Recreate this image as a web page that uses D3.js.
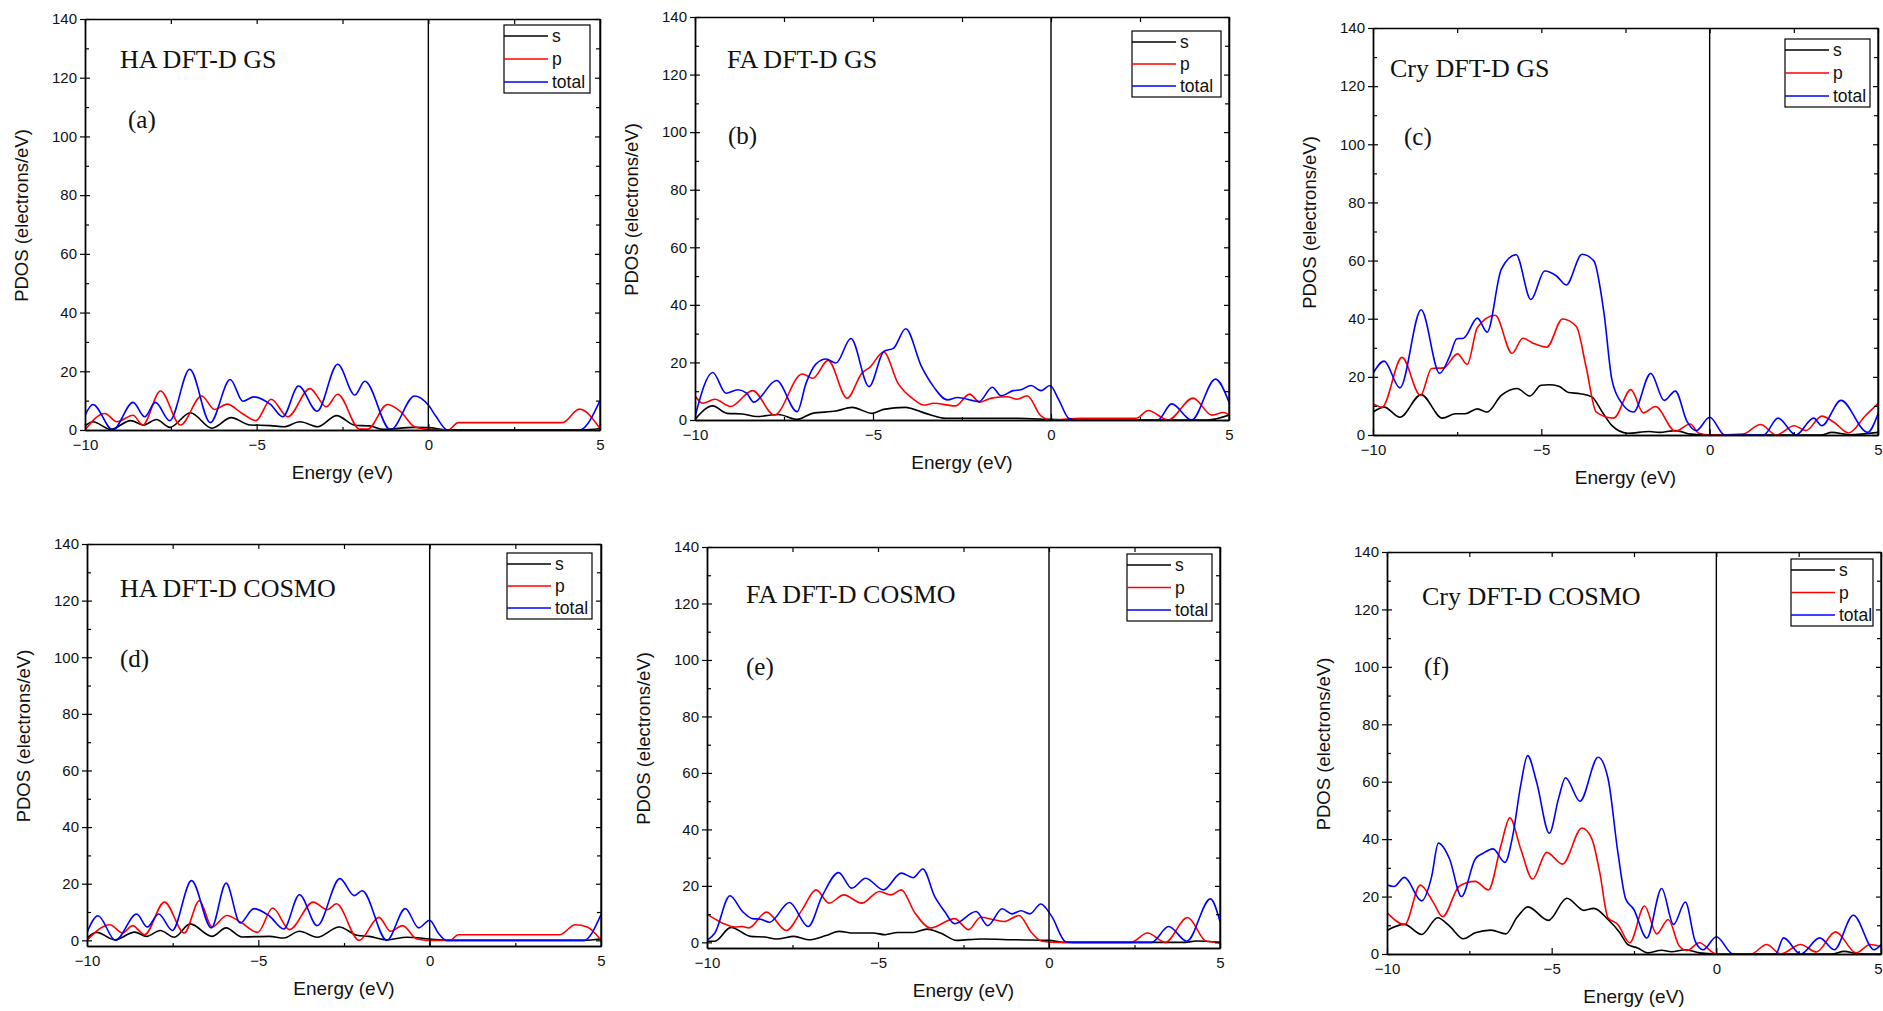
<!DOCTYPE html>
<html>
<head>
<meta charset="utf-8">
<script src="https://cdn.jsdelivr.net/npm/d3@7"></script>
<style>
  body { margin: 0; background: #fff; }
  svg { display: block; }
</style>
</head>
<body>
<svg id="chart" width="1883" height="1011"></svg>
<script>
// ---- data: [energy (eV), PDOS (electrons/eV)] ----
var haGsS = [[-10,1.4],[-9.77,2.8],[-9.25,0.2],[-8.67,3.2],[-8.3,1.7],[-7.92,3.6],[-7.53,0.9],[-6.93,5.9],[-6.3,0.6],[-5.74,4.2],[-5.19,1.7],[-4.6,1.5],[-4.2,1.1],[-3.74,2.8],[-3.22,1.1],[-2.67,4.9],[-2.14,1.6],[-1.71,1.4],[-1.3,0.2],[-0.43,0.9],[0,0.8],[0.58,0],[4.5,0],[5,0.5]];
var haGsP = [[-10,0],[-9.42,5.6],[-9.07,2.8],[-8.6,5],[-8.32,1.7],[-7.8,13.3],[-7.22,1.7],[-6.6,11.6],[-6.23,7],[-5.86,8.8],[-5.42,5.6],[-5.02,3.2],[-4.58,10.5],[-4.09,4.5],[-3.45,14.1],[-2.97,7.9],[-2.64,12.2],[-2.0,0.3],[-1.77,0.3],[-1.19,8.7],[-0.8,6.2],[-0.4,1.1],[0,0.2],[0.58,0],[0.87,2.5],[3.9,2.5],[4.4,7.1],[5,0.5]];
var haGsT = [[-10,5],[-9.77,8.7],[-9.19,0],[-8.6,9.4],[-8.26,4.5],[-7.95,9.4],[-7.53,3.2],[-6.95,20.7],[-6.35,2.5],[-5.77,17.2],[-5.4,9.8],[-5.08,11.3],[-4.6,8.7],[-4.24,4.5],[-3.78,15],[-3.24,6.4],[-2.64,22.4],[-2.14,11.9],[-1.85,16.6],[-1.1,0],[-0.4,11.6],[0,8.5],[0.23,4.5],[0.56,0],[4.4,0],[5,10]];

var faGsS = [[-10,0.2],[-9.5,4.9],[-9.1,2.3],[-8.66,2.1],[-8.27,1.2],[-7.66,1.9],[-7.13,0.2],[-6.7,2.3],[-6.04,3.1],[-5.59,4.4],[-5.02,2.3],[-4.7,3.7],[-4.1,4.4],[-3.52,2.3],[-2.96,0.6],[-2.29,0.6],[-0.95,0.6],[0,0.2],[0.5,0],[4.4,0],[5,1.7]];
var faGsP = [[-10,8.4],[-9.78,5.8],[-9.44,7.2],[-9.0,4.7],[-8.38,10.2],[-7.77,1.7],[-6.99,16],[-6.69,14.5],[-6.26,20.7],[-5.73,7.6],[-5.31,16.3],[-5.09,18.3],[-4.7,23.6],[-4.3,12.8],[-3.86,7.2],[-3.57,5.2],[-3.3,5.8],[-2.68,4.9],[-2.29,9],[-2.0,6.2],[-1.67,7.6],[-1.23,8.1],[-0.95,7.2],[-0.67,8.4],[-0.28,1.4],[0,0],[0.84,0.6],[2.4,0.6],[2.73,3.3],[3.29,0],[3.99,7.6],[4.52,1.7],[4.85,2.6],[5,1.7]];
var faGsT = [[-10,1.2],[-9.5,16.5],[-9.13,9.3],[-8.8,10.5],[-8.55,9.3],[-8.35,6.2],[-7.71,13.7],[-7.13,2.9],[-6.88,12.8],[-6.6,19.5],[-6.32,21.2],[-6.04,19.8],[-5.62,28.3],[-5.11,11.6],[-4.7,23.8],[-4.42,25],[-4.08,31.7],[-3.64,18.6],[-3.3,11.6],[-2.91,7],[-2.63,7.8],[-2.02,6.4],[-1.65,11.4],[-1.4,8.4],[-1.06,10.2],[-0.84,10.5],[-0.56,12],[-0.28,10.2],[-0.03,12],[0.22,7],[0.5,0.6],[0.7,0],[3.0,0],[3.39,5.6],[3.95,0],[4.62,14.2],[5,6.2]];

var cryGsS = [[-10,7.9],[-9.67,9.6],[-9.2,6.1],[-8.57,13.9],[-7.94,5.8],[-7.55,7.3],[-7.26,7.3],[-6.9,9],[-6.61,7.9],[-6.19,13.6],[-5.72,16],[-5.34,13.4],[-5.01,17.1],[-4.78,17.3],[-4.48,16.8],[-4.19,14.6],[-3.85,14.2],[-3.5,13.1],[-3.19,7.9],[-2.9,3.2],[-2.44,0.6],[-1.79,1.2],[-1.5,0.9],[-1.02,1.5],[-0.55,0.3],[0,0],[3.3,0],[3.63,0.9],[4.16,0.1],[5,0.9]];
var cryGsP = [[-10,10.8],[-9.73,9.6],[-9.14,26.7],[-8.59,13.6],[-8.26,22.9],[-7.9,23.1],[-7.49,27.9],[-7.2,24.3],[-6.9,37],[-6.37,41.2],[-5.87,28.1],[-5.55,33.3],[-5.25,31.6],[-4.84,30.2],[-4.37,39.9],[-3.96,37.3],[-3.67,23.4],[-3.37,7.9],[-2.85,5.8],[-2.34,15.6],[-1.97,7.6],[-1.61,9.8],[-1.02,1.3],[-0.58,3.8],[-0.32,0.6],[0,0],[0.98,0.3],[1.51,3.6],[1.98,0],[2.51,3.2],[2.86,1.5],[3.33,6.5],[3.69,4.4],[4.13,0.7],[4.63,6.7],[5,10.8]];
var cryGsT = [[-10,21.2],[-9.67,25.4],[-9.2,16.2],[-8.57,43.1],[-8.02,21.2],[-7.73,26.9],[-7.51,33.1],[-7.31,33.3],[-6.9,40.2],[-6.61,35.4],[-6.19,57],[-5.75,62],[-5.31,46.6],[-4.9,56.4],[-4.55,54.7],[-4.26,51.6],[-3.79,62.2],[-3.44,59.9],[-3.14,42],[-2.9,18.8],[-2.6,10.8],[-2.26,7.9],[-1.75,21.2],[-1.35,11.9],[-1.02,15.1],[-0.67,4.6],[-0.4,1.5],[0,6.1],[0.45,0],[1.6,0],[2.03,5.8],[2.56,0],[3.09,5.8],[3.33,3.2],[3.9,11.9],[4.69,0.9],[5,7.3]];

var haCoS = [[-10,0.8],[-9.71,2.8],[-9.19,0.2],[-8.61,2.9],[-8.26,1.4],[-7.86,3.5],[-7.45,1.1],[-6.99,5.8],[-6.35,1.4],[-5.94,4.4],[-5.48,1.2],[-4.67,1.4],[-4.26,0.8],[-3.8,3.2],[-3.28,1.1],[-2.64,4.7],[-2.12,1.8],[-1.77,1.4],[-1.25,0.2],[-0.67,1.1],[0,0.5],[0.54,0],[4.5,0],[5,0.5]];
var haCoP = [[-10,0],[-9.33,5.5],[-8.96,2.6],[-8.67,5.2],[-8.32,2],[-7.74,13.5],[-7.16,2.6],[-6.72,14],[-6.35,4.7],[-5.92,8.8],[-5.48,6.1],[-5.02,2.8],[-4.58,11.4],[-4.09,3.8],[-3.4,13.5],[-2.99,10.8],[-2.72,12.9],[-2.06,0],[-1.48,8.1],[-1.14,3.2],[-0.79,5.2],[-0.38,0.5],[0,0],[0.6,0],[0.83,2],[3.79,2],[4.25,5.5],[4.6,4.7],[5,0]];
var haCoT = [[-10,2.8],[-9.68,8.7],[-9.17,0],[-8.55,9.3],[-8.24,4.7],[-7.91,9.3],[-7.51,3.5],[-6.95,21.1],[-6.37,4.4],[-5.94,20.2],[-5.53,6.1],[-5.13,11.2],[-4.67,8.5],[-4.26,4],[-3.8,16.1],[-3.28,5.2],[-2.62,21.8],[-2.2,15.8],[-1.97,17.5],[-1.25,0],[-0.71,11.2],[-0.32,4.4],[0,7.1],[0.25,2.6],[0.49,0],[4.5,0],[5,9.1]];

var faCoS = [[-10,0.4],[-9.77,0.4],[-9.3,5.3],[-8.72,2.1],[-8.32,1.9],[-7.97,1.2],[-7.45,2.1],[-7.04,0.9],[-6.52,2.4],[-6.14,3.9],[-5.71,3.3],[-5.14,3.3],[-4.79,2.7],[-4.43,3.5],[-3.97,3.5],[-3.57,4.7],[-3.17,3.3],[-2.7,0.7],[-2.0,1.2],[-0.96,0.9],[0,0.7],[0.43,0],[4.0,0],[4.3,0.5],[5,0]];
var faCoP = [[-10,10],[-9.54,6.8],[-9.19,5.4],[-8.96,5.6],[-8.78,5.1],[-8.26,10.7],[-7.68,4.2],[-7.22,11.5],[-6.81,18.6],[-6.43,13.9],[-6.0,16.8],[-5.48,13.9],[-4.96,18],[-4.62,16.8],[-4.32,18.6],[-3.92,10.4],[-3.46,5.1],[-2.76,8.4],[-2.35,4.5],[-2.0,8.9],[-1.6,8],[-1.31,7.4],[-0.88,9.5],[-0.5,3.3],[-0.21,0.4],[0.2,0],[2.4,0],[2.88,3.3],[3.4,0],[4.05,8.8],[4.6,0.4],[5,0]];
var faCoT = [[-10,0.7],[-9.77,3.3],[-9.33,16.5],[-8.96,10.9],[-8.67,8.4],[-8.43,8.2],[-8.17,7.1],[-7.59,14.1],[-7.04,5.6],[-6.64,16.2],[-6.15,24.7],[-5.77,19.2],[-5.36,22.7],[-4.84,18.6],[-4.32,24.5],[-3.97,22.9],[-3.69,26],[-3.34,16.2],[-3.05,10.9],[-2.76,6.6],[-2.13,10.9],[-1.79,5.9],[-1.37,11.9],[-1.08,10.1],[-0.82,11.2],[-0.56,10.1],[-0.24,13.6],[0.08,9.2],[0.49,0.2],[0.7,0],[3.0,0],[3.5,5.6],[4.03,0.4],[4.72,15.4],[5,7.4]];

var cryCoS = [[-10,8.2],[-9.47,10.3],[-8.95,6.8],[-8.46,12.6],[-8.1,9.7],[-7.68,5.3],[-7.32,7.4],[-6.84,8.3],[-6.39,7],[-6.06,12.6],[-5.72,16.4],[-5.1,11.7],[-4.54,19.4],[-4.02,15.2],[-3.72,15.9],[-3.29,12],[-2.93,7.4],[-2.69,3.3],[-2.39,2.1],[-2.08,0.4],[-1.66,1.3],[-1.36,0.8],[-0.94,1.5],[-0.52,0.4],[0,0],[3.5,0],[3.88,0.9],[4.3,0.1],[5,0]];
var cryCoP = [[-10,14.4],[-9.46,10.3],[-8.99,24],[-8.59,17.9],[-8.31,13],[-7.8,23.7],[-7.32,25.3],[-6.92,22.3],[-6.54,37.8],[-6.27,47.4],[-5.94,36.6],[-5.58,26.1],[-5.15,35.4],[-4.67,31.3],[-4.08,43.9],[-3.78,40.1],[-3.54,28.4],[-3.29,12.6],[-2.99,10.3],[-2.63,3.9],[-2.18,16.7],[-1.81,7],[-1.46,12],[-1.12,2.7],[-0.88,1.2],[-0.52,3.9],[0,0],[1.05,0],[1.53,3.3],[1.95,0],[2.56,3.3],[3.04,0.7],[3.62,7.7],[4.25,0.4],[4.67,3.3],[5,2.5]];
var cryCoT = [[-10,24.1],[-9.79,23.5],[-9.47,26.7],[-8.95,18.5],[-8.65,26.7],[-8.44,38.6],[-8.1,33.1],[-7.74,20],[-7.32,33.1],[-7.08,35.1],[-6.78,36.6],[-6.42,31.9],[-6.18,41.3],[-5.94,58.8],[-5.73,69.1],[-5.46,60],[-5.07,42.1],[-4.79,54.2],[-4.58,61.4],[-4.14,53.2],[-3.59,68.5],[-3.29,61.2],[-2.99,35.4],[-2.75,19.1],[-2.51,15.6],[-2.11,5.6],[-1.66,22.8],[-1.3,10.3],[-0.94,18.1],[-0.64,4.4],[-0.4,1.5],[0,6],[0.51,0],[1.8,0],[2.04,5.6],[2.56,0],[3.14,5.6],[3.58,1.5],[4.16,13.5],[4.79,1.5],[5,3.3]];

var panelTitles = ["HA DFT-D GS", "FA DFT-D GS", "Cry DFT-D GS", "HA DFT-D COSMO", "FA DFT-D COSMO", "Cry DFT-D COSMO"];
var panelLetters = ["(a)", "(b)", "(c)", "(d)", "(e)", "(f)"];
var seriesNames = ["s", "p", "total"];
var seriesColors = ["#000000", "#ff0000", "#0000ff"];
var xMajorTicks = [-10, -5, 0, 5];
var xMinorTicks = [-7.5, -2.5, 2.5];
var yMajorTicks = [0, 20, 40, 60, 80, 100, 120, 140];
var yMinorTicks = [10, 30, 50, 70, 90, 110, 130];

var panelSeries = [
  [haGsS, haGsP, haGsT], [faGsS, faGsP, faGsT], [cryGsS, cryGsP, cryGsT],
  [haCoS, haCoP, haCoT], [faCoS, faCoP, faCoT], [cryCoS, cryCoP, cryCoT]
];

// layout of each panel in page pixels
var layout = [
  {left: 85,   right: 600,  top: 19,  bottom: 430, yMin: 0,  titleX: 120,  titleY: 68,  letterX: 128,  letterY: 128, legX: 504,  legY: 25,  legW: 86, legH: 68},
  {left: 695,  right: 1229, top: 17,  bottom: 420, yMin: 0,  titleX: 727,  titleY: 68,  letterX: 728,  letterY: 144, legX: 1132, legY: 31,  legW: 89, legH: 66},
  {left: 1373, right: 1878, top: 28,  bottom: 435, yMin: 0,  titleX: 1390, titleY: 77,  letterX: 1404, letterY: 145, legX: 1785, legY: 39,  legW: 85, legH: 68},
  {left: 87,   right: 601,  top: 544, bottom: 946, yMin: -2, titleX: 120,  titleY: 597, letterX: 120,  letterY: 667, legX: 507,  legY: 553, legW: 85, legH: 66},
  {left: 707,  right: 1220, top: 547, bottom: 948, yMin: -2, titleX: 746,  titleY: 603, letterX: 746,  letterY: 675, legX: 1127, legY: 554, legW: 85, legH: 67},
  {left: 1387, right: 1881, top: 552, bottom: 954, yMin: 0,  titleX: 1422, titleY: 605, letterX: 1424, letterY: 675, legX: 1791, legY: 559, legW: 82, legH: 67}
];

var svg = d3.select('#chart');
var pageWidth = 1883;
var sansFont = "'Liberation Sans', Arial, sans-serif";
var serifFont = "'Liberation Serif', 'Times New Roman', serif";

function drawPanel(p, k) {
  var x = d3.scaleLinear().domain([-10, 5]).range([p.left, p.right]);
  var y = d3.scaleLinear().domain([p.yMin, 140]).range([p.bottom, p.top]);
  var g = svg.append('g');

  g.append('clipPath').attr('id', 'clip' + k)
    .append('rect')
      .attr('x', p.left).attr('y', p.top)
      .attr('width', p.right - p.left).attr('height', p.bottom - p.top);

  var line = d3.line()
    .x(function(d) { return x(d[0]); })
    .y(function(d) { return y(d[1]); })
    .curve(d3.curveMonotoneX);

  // s, p, then total on top
  g.append('g').attr('clip-path', 'url(#clip' + k + ')')
    .selectAll('path')
    .data(panelSeries[k])
    .enter()
    .append('path')
      .attr('d', line)
      .attr('fill', 'none')
      .attr('stroke', function(d, i) { return seriesColors[i]; })
      .attr('stroke-width', 1.6);

  // Fermi level
  g.append('line')
    .attr('x1', x(0)).attr('x2', x(0))
    .attr('y1', p.top).attr('y2', p.bottom)
    .attr('stroke', '#000').attr('stroke-width', 1.4);

  // axes: labelled bottom/left, plain top/right, ticks pointing in
  var bottom = g.append('g').attr('transform', 'translate(0,' + p.bottom + ')')
    .call(d3.axisBottom(x).tickValues(xMajorTicks).tickSizeInner(-6).tickSizeOuter(0).tickPadding(9)
      .tickFormat(d3.format('d')));
  g.append('g').attr('transform', 'translate(0,' + p.bottom + ')')
    .call(d3.axisBottom(x).tickValues(xMinorTicks).tickSizeInner(-3).tickSizeOuter(0).tickFormat(''));
  g.append('g').attr('transform', 'translate(0,' + p.top + ')')
    .call(d3.axisTop(x).tickValues(xMajorTicks.concat(xMinorTicks)).tickSizeInner(-5).tickSizeOuter(0).tickFormat(''));

  var left = g.append('g').attr('transform', 'translate(' + p.left + ',0)')
    .call(d3.axisLeft(y).tickValues(yMajorTicks).tickSizeInner(5).tickSizeOuter(0).tickPadding(3));
  g.append('g').attr('transform', 'translate(' + p.left + ',0)')
    .call(d3.axisLeft(y).tickValues(yMajorTicks).tickSizeInner(-5).tickSizeOuter(0).tickFormat(''));
  g.append('g').attr('transform', 'translate(' + p.left + ',0)')
    .call(d3.axisLeft(y).tickValues(yMinorTicks).tickSizeInner(-4).tickSizeOuter(0).tickFormat(''));
  g.append('g').attr('transform', 'translate(' + p.right + ',0)')
    .call(d3.axisRight(y).tickValues(yMajorTicks).tickSizeInner(-5).tickSizeOuter(0).tickFormat(''));
  g.append('g').attr('transform', 'translate(' + p.right + ',0)')
    .call(d3.axisRight(y).tickValues(yMinorTicks).tickSizeInner(-4).tickSizeOuter(0).tickFormat(''));

  g.selectAll('.domain').attr('stroke', '#000').attr('stroke-width', 1.3);
  g.selectAll('.tick line').attr('stroke', '#000').attr('stroke-width', 1.2);
  g.selectAll('.tick text')
    .attr('font-family', sansFont).attr('font-size', 15).attr('fill', '#111');

  // last x label of the right-hand panels sits on the page edge: keep it inside
  bottom.selectAll('.tick text')
    .attr('text-anchor', function(d) { return x(d) + 5 > pageWidth ? 'end' : 'middle'; })
    .attr('x', function(d) { return x(d) + 5 > pageWidth ? pageWidth - 1 - x(d) : 0; });

  // close the frame on the right side
  g.append('line')
    .attr('x1', p.right).attr('x2', p.right).attr('y1', p.top).attr('y2', p.bottom)
    .attr('stroke', '#000').attr('stroke-width', 1.3);

  // axis titles
  g.append('text')
    .attr('x', (p.left + p.right) / 2).attr('y', p.bottom + 49)
    .attr('text-anchor', 'middle')
    .attr('font-family', sansFont).attr('font-size', 19).attr('fill', '#111')
    .text('Energy (eV)');
  g.append('text')
    .attr('transform', 'translate(' + (p.left - 63) + ',' + ((p.top + p.bottom) / 2 - 9) + ') rotate(-90)')
    .attr('text-anchor', 'middle').attr('dy', '0.35em')
    .attr('font-family', sansFont).attr('font-size', 18.5).attr('fill', '#111')
    .text('PDOS (electrons/eV)');

  // panel title and letter
  g.append('text')
    .attr('x', p.titleX).attr('y', p.titleY)
    .attr('font-family', serifFont).attr('font-size', 26).attr('fill', '#111')
    .text(panelTitles[k]);
  g.append('text')
    .attr('x', p.letterX).attr('y', p.letterY)
    .attr('font-family', serifFont).attr('font-size', 25).attr('fill', '#111')
    .text(panelLetters[k]);

  // legend
  var leg = g.append('g').attr('transform', 'translate(' + p.legX + ',' + p.legY + ')');
  leg.append('rect')
    .attr('width', p.legW).attr('height', p.legH)
    .attr('fill', '#fff').attr('stroke', '#000').attr('stroke-width', 1.2);
  var rowGap = (p.legH - 22) / 2;
  var items = leg.selectAll('g.item')
    .data(seriesNames)
    .enter()
    .append('g')
      .attr('class', 'item')
      .attr('transform', function(d, i) { return 'translate(0,' + (11 + i * rowGap) + ')'; });
  items.append('line')
    .attr('x1', 0).attr('x2', 44)
    .attr('stroke', function(d, i) { return seriesColors[i]; })
    .attr('stroke-width', 1.6);
  items.append('text')
    .attr('x', 48).attr('y', 6)
    .attr('font-family', sansFont).attr('font-size', 17.5).attr('fill', '#111')
    .text(function(d) { return d; });
}

layout.forEach(drawPanel);
</script>
</body>
</html>
